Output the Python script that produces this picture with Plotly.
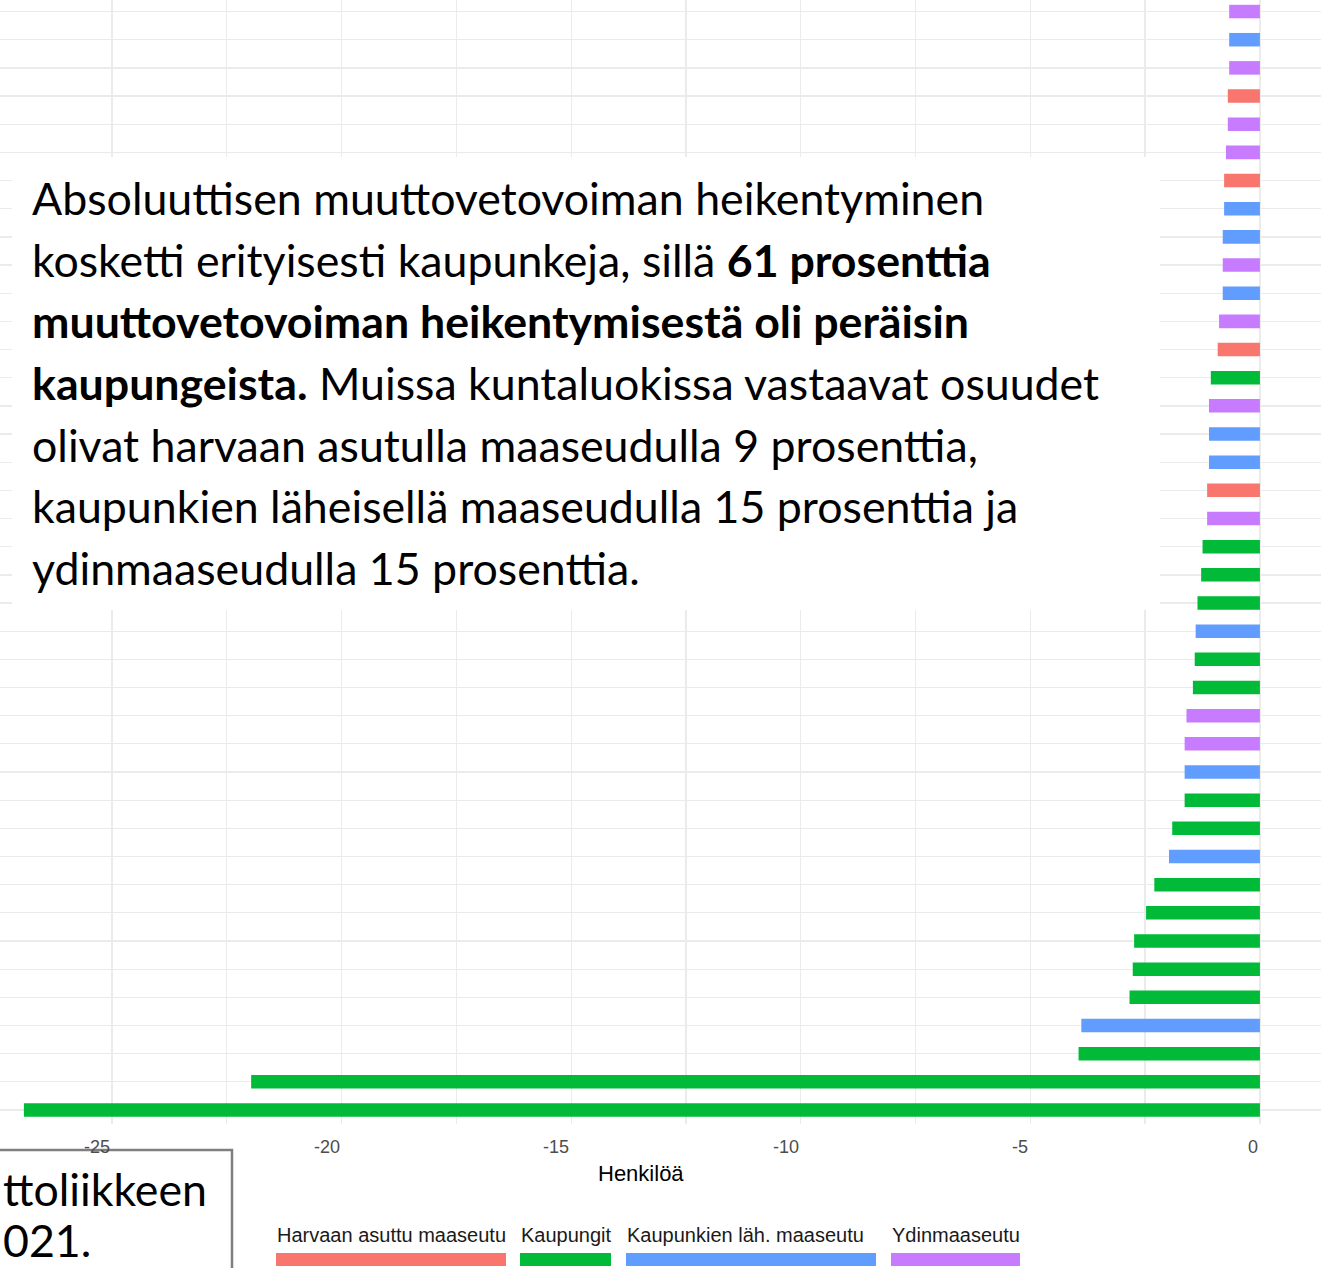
import plotly.graph_objects as go

# ---------------- data (top bar first) ----------------
categories = ["Harvaan asuttu maaseutu", "Kaupungit", "Kaupunkien läh. maaseutu", "Ydinmaaseutu"]
colors = {"Harvaan asuttu maaseutu": "#F8766D", "Kaupungit": "#00BA38",
          "Kaupunkien läh. maaseutu": "#619CFF", "Ydinmaaseutu": "#C77CFF"}

bar_class = ["Ydinmaaseutu", "Kaupunkien läh. maaseutu", "Ydinmaaseutu", "Harvaan asuttu maaseutu",
             "Ydinmaaseutu", "Ydinmaaseutu", "Harvaan asuttu maaseutu", "Kaupunkien läh. maaseutu",
             "Kaupunkien läh. maaseutu", "Ydinmaaseutu", "Kaupunkien läh. maaseutu", "Ydinmaaseutu",
             "Harvaan asuttu maaseutu", "Kaupungit", "Ydinmaaseutu", "Kaupunkien läh. maaseutu",
             "Kaupunkien läh. maaseutu", "Harvaan asuttu maaseutu", "Ydinmaaseutu", "Kaupungit",
             "Kaupungit", "Kaupungit", "Kaupunkien läh. maaseutu", "Kaupungit",
             "Kaupungit", "Ydinmaaseutu", "Ydinmaaseutu", "Kaupunkien läh. maaseutu",
             "Kaupungit", "Kaupungit", "Kaupunkien läh. maaseutu", "Kaupungit",
             "Kaupungit", "Kaupungit", "Kaupungit", "Kaupungit",
             "Kaupunkien läh. maaseutu", "Kaupungit", "Kaupungit", "Kaupungit"]

bar_values = [-0.67, -0.67, -0.67, -0.70, -0.70, -0.74, -0.78, -0.78, -0.81, -0.81,
              -0.81, -0.89, -0.92, -1.07, -1.11, -1.11, -1.11, -1.15, -1.15, -1.25,
              -1.28, -1.36, -1.40, -1.42, -1.46, -1.60, -1.64, -1.64, -1.64, -1.91,
              -1.98, -2.30, -2.48, -2.74, -2.77, -2.84, -3.89, -3.95, -21.97, -26.92]

x_ticks = [-25, -20, -15, -10, -5, 0]
x_tick_labels = ["-25", "-20", "-15", "-10", "-5", "0"]
x_title = "Henkilöä"

text_lines = [
    "Absoluuttisen muuttovetovoiman heikentyminen",
    "kosketti erityisesti kaupunkeja, sillä <b>61 prosenttia</b>",
    "<b>muuttovetovoiman heikentymisestä oli peräisin</b>",
    "<b>kaupungeista.</b> Muissa kuntaluokissa vastaavat osuudet",
    "olivat harvaan asutulla maaseudulla 9 prosenttia,",
    "kaupunkien läheisellä maaseudulla 15 prosenttia ja",
    "ydinmaaseudulla 15 prosenttia.",
]
corner_lines = ["ttoliikkeen", "021."]

# ---------------- layout helpers ----------------
W, H = 1324, 1268
ML, MR, MT, MB = 0, 3, 0, 144
PW, PH = W - ML - MR, H - MT - MB


def px(x):
    return (x - ML) / PW


def py(y):
    return (H - MB - y) / PH


n = len(bar_values)
ypos = list(range(n, 0, -1))  # top bar = n

fig = go.Figure()
for cat in categories:
    xs = [v for v, c in zip(bar_values, bar_class) if c == cat]
    ys = [p for p, c in zip(ypos, bar_class) if c == cat]
    fig.add_trace(go.Bar(x=xs, y=ys, orientation="h", width=0.48, name=cat,
                         marker=dict(color=colors[cat], line=dict(width=0)),
                         showlegend=False, hoverinfo="skip"))

fig.update_layout(
    width=W, height=H, margin=dict(l=ML, r=MR, t=MT, b=MB),
    plot_bgcolor="white", paper_bgcolor="white", barmode="overlay",
    font=dict(family="Liberation Sans, Arial, sans-serif"),
)
fig.update_xaxes(range=[-27.44, 1.33], tickvals=x_ticks, showticklabels=False,
                 showgrid=True, gridcolor="#EBEBEB", gridwidth=1.3, zeroline=False,
                 minor=dict(dtick=2.5, tick0=0, showgrid=True, gridcolor="#EBEBEB", gridwidth=1.3),
                 showline=False, ticks="")
fig.update_yaxes(range=[0.503, 40.41], tickvals=ypos, showticklabels=False,
                 showgrid=True, gridcolor="#EBEBEB", gridwidth=1.3, zeroline=False,
                 showline=False, ticks="")

annotations = []
# x tick labels (right-aligned to gridlines)
for v, t in zip(x_ticks, x_tick_labels):
    annotations.append(dict(x=v, xref="x", y=py(1147), yref="paper", text=t, showarrow=False,
                            xanchor="right", yanchor="middle",
                            font=dict(size=18, color="#4D4D4D", family="Liberation Sans, Arial")))
# axis title
annotations.append(dict(x=px(641), y=py(1173), xref="paper", yref="paper", text=x_title,
                        showarrow=False, xanchor="center", yanchor="middle",
                        font=dict(size=22, color="#000000", family="Liberation Sans, Arial")))

# legend (labels above keys)
key_x = [(276, 506), (520, 611), (626, 876), (891, 1020)]
shapes = []
for cat, (x0, x1) in zip(categories, key_x):
    shapes.append(dict(type="rect", xref="paper", yref="paper", x0=px(x0), x1=px(x1),
                       y0=py(1266), y1=py(1253), fillcolor=colors[cat], line=dict(width=0),
                       layer="above"))
    annotations.append(dict(x=px(x0 - 1), y=py(1235), xref="paper", yref="paper", text=cat,
                            showarrow=False, xanchor="left", yanchor="middle",
                            font=dict(size=20, color="#1A1A1A", family="Liberation Sans, Arial")))

# white text panel
shapes.append(dict(type="rect", xref="paper", yref="paper", x0=px(12), x1=px(1160),
                   y0=py(610), y1=py(157), fillcolor="white", line=dict(width=0), layer="above"))
FS = 44.7
for i, line in enumerate(text_lines):
    base = 214 + i * 61.7
    annotations.append(dict(x=px(30), y=py(base - 0.36 * FS), xref="paper", yref="paper",
                            text=line, showarrow=False, xanchor="left", yanchor="middle",
                            font=dict(size=FS, color="#000000", family="Lato, Open Sans, sans-serif")))

# bottom-left boxed text fragment
shapes.append(dict(type="rect", xref="paper", yref="paper", x0=px(-5), x1=px(232),
                   y0=py(1290), y1=py(1150), fillcolor="white",
                   line=dict(width=2.5, color="#7F7F7F"), layer="above"))
for line, base in zip(corner_lines, [1205, 1256]):
    annotations.append(dict(x=px(1), y=py(base - 0.36 * FS), xref="paper", yref="paper",
                            text=line, showarrow=False, xanchor="left", yanchor="middle",
                            font=dict(size=FS, color="#000000", family="Lato, Open Sans, sans-serif")))

fig.update_layout(shapes=shapes, annotations=annotations)
fig.write_html("out.html", config={"displayModeBar": False, "staticPlot": True},
               post_script="document.body.style.margin='0';document.body.style.overflow='hidden';")
